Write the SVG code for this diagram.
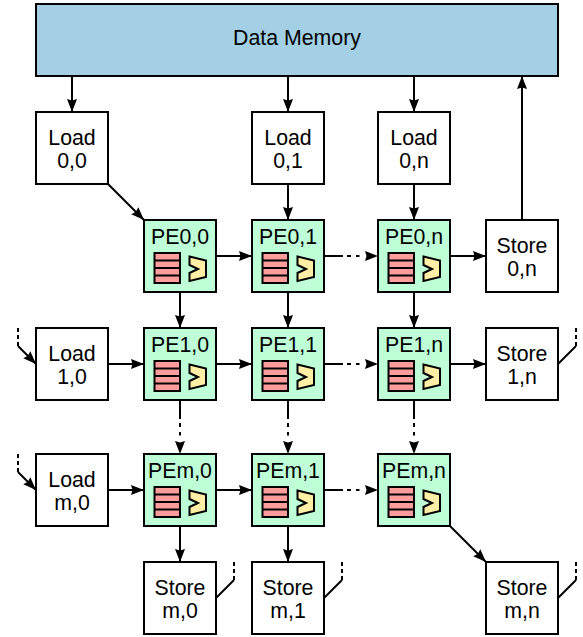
<svg xmlns="http://www.w3.org/2000/svg" width="583" height="637" viewBox="0 0 583 637">
<style>
text{font-family:"Liberation Sans",Arial,sans-serif;font-size:21.3px;fill:#000;text-anchor:middle}
.b{stroke:#000;stroke-width:2}
.mem{fill:#a3d0e4}.box{fill:#fff}.pe{fill:#bfffd8}.reg{fill:#ff9c9c}.alu{fill:#ffeea6;stroke-linejoin:miter}
#c path{fill:none;stroke:#000;stroke-width:2}
#c path.dd{stroke-dasharray:19 4 4 5 3.500 100}
#c path.d{stroke-dasharray:4 3}
</style>
<defs>
<marker id="a" markerUnits="userSpaceOnUse" markerWidth="14" markerHeight="10" refX="13" refY="5" orient="auto"><path d="M0 0L13 5L0 10L1.500 5Z" fill="#000"/></marker>
<g id="unit"><g class="b"><rect class="reg" x="10.500" y="33" width="25.500" height="30"/><path d="M10.500 40.500H36M10.500 48H36M10.500 55.500H36" fill="none"/><path class="alu" d="M45.500 36.500L62 40.500V57L45.500 61V53L54 49L45.500 45Z"/></g></g>
</defs>
<g id="c">
<path marker-end="url(#a)" d="M72 76V112"/><path marker-end="url(#a)" d="M288 76V112"/><path marker-end="url(#a)" d="M414 76V112"/><path marker-end="url(#a)" d="M522 220V76"/>
<path marker-end="url(#a)" d="M108 184L144 220"/><path marker-end="url(#a)" d="M288 184V220"/><path marker-end="url(#a)" d="M414 184V220"/>
<path marker-end="url(#a)" d="M216 256H252"/><path class="dd" marker-end="url(#a)" d="M324 256H378"/><path marker-end="url(#a)" d="M450 256H486"/>
<path marker-end="url(#a)" d="M180 292V328"/><path marker-end="url(#a)" d="M288 292V328"/><path marker-end="url(#a)" d="M414 292V328"/>
<path marker-end="url(#a)" d="M108 364H144"/><path marker-end="url(#a)" d="M216 364H252"/><path class="dd" marker-end="url(#a)" d="M324 364H378"/><path marker-end="url(#a)" d="M450 364H486"/>
<path class="dd" marker-end="url(#a)" d="M180 400V454"/><path class="dd" marker-end="url(#a)" d="M288 400V454"/><path class="dd" marker-end="url(#a)" d="M414 400V454"/>
<path marker-end="url(#a)" d="M108 490H144"/><path marker-end="url(#a)" d="M216 490H252"/><path class="dd" marker-end="url(#a)" d="M324 490H378"/>
<path marker-end="url(#a)" d="M180 526V562"/><path marker-end="url(#a)" d="M288 526V562"/><path marker-end="url(#a)" d="M450 526L486 562"/>
<path class="d" d="M18 328V346"/><path marker-end="url(#a)" d="M18 346L36 364"/>
<path class="d" d="M18 454V472"/><path marker-end="url(#a)" d="M18 472L36 490"/>
<path class="d" d="M576 328V346"/><path d="M576 346L558 364"/>
<path class="d" d="M234 562V580"/><path d="M234 580L216 598"/>
<path class="d" d="M342 562V580"/><path d="M342 580L324 598"/>
<path class="d" d="M576 562V580"/><path d="M576 580L558 598"/>
</g>
<g id="mem"><rect class="b mem" x="36" y="4" width="522" height="72"/><text x="297" y="45">Data Memory</text></g>
<g id="load00"><rect class="b box" x="36" y="112" width="72" height="72"/><text x="72" y="145">Load</text><text x="72" y="168">0,0</text></g>
<g id="load01"><rect class="b box" x="252" y="112" width="72" height="72"/><text x="288" y="145">Load</text><text x="288" y="168">0,1</text></g>
<g id="load0n"><rect class="b box" x="378" y="112" width="72" height="72"/><text x="414" y="145">Load</text><text x="414" y="168">0,n</text></g>
<g id="load10"><rect class="b box" x="36" y="328" width="72" height="72"/><text x="72" y="361">Load</text><text x="72" y="384">1,0</text></g>
<g id="loadm0"><rect class="b box" x="36" y="454" width="72" height="72"/><text x="72" y="487">Load</text><text x="72" y="510">m,0</text></g>
<g id="store0n"><rect class="b box" x="486" y="220" width="72" height="72"/><text x="522" y="253">Store</text><text x="522" y="276">0,n</text></g>
<g id="store1n"><rect class="b box" x="486" y="328" width="72" height="72"/><text x="522" y="361">Store</text><text x="522" y="384">1,n</text></g>
<g id="storem0"><rect class="b box" x="144" y="562" width="72" height="72"/><text x="180" y="595">Store</text><text x="180" y="618">m,0</text></g>
<g id="storem1"><rect class="b box" x="252" y="562" width="72" height="72"/><text x="288" y="595">Store</text><text x="288" y="618">m,1</text></g>
<g id="storemn"><rect class="b box" x="486" y="562" width="72" height="72"/><text x="522" y="595">Store</text><text x="522" y="618">m,n</text></g>
<g id="pe00"><rect class="b pe" x="144" y="220" width="72" height="72"/><text x="180" y="244">PE0,0</text><use href="#unit" x="144" y="220"/></g>
<g id="pe01"><rect class="b pe" x="252" y="220" width="72" height="72"/><text x="288" y="244">PE0,1</text><use href="#unit" x="252" y="220"/></g>
<g id="pe0n"><rect class="b pe" x="378" y="220" width="72" height="72"/><text x="414" y="244">PE0,n</text><use href="#unit" x="378" y="220"/></g>
<g id="pe10"><rect class="b pe" x="144" y="328" width="72" height="72"/><text x="180" y="352">PE1,0</text><use href="#unit" x="144" y="328"/></g>
<g id="pe11"><rect class="b pe" x="252" y="328" width="72" height="72"/><text x="288" y="352">PE1,1</text><use href="#unit" x="252" y="328"/></g>
<g id="pe1n"><rect class="b pe" x="378" y="328" width="72" height="72"/><text x="414" y="352">PE1,n</text><use href="#unit" x="378" y="328"/></g>
<g id="pem0"><rect class="b pe" x="144" y="454" width="72" height="72"/><text x="180" y="478">PEm,0</text><use href="#unit" x="144" y="454"/></g>
<g id="pem1"><rect class="b pe" x="252" y="454" width="72" height="72"/><text x="288" y="478">PEm,1</text><use href="#unit" x="252" y="454"/></g>
<g id="pemn"><rect class="b pe" x="378" y="454" width="72" height="72"/><text x="414" y="478">PEm,n</text><use href="#unit" x="378" y="454"/></g>
</svg>
